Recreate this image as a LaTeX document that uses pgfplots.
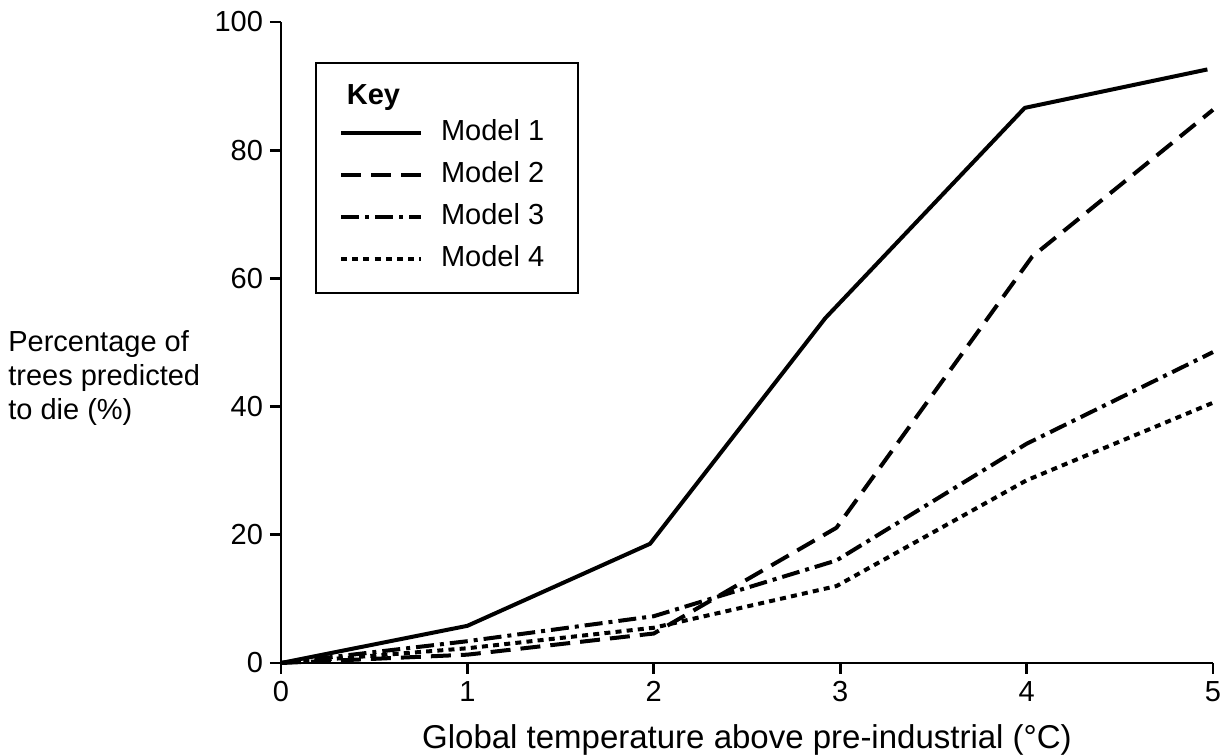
\documentclass[border=0pt]{standalone}
\usepackage{fontspec}
\setmainfont{Liberation Sans}
\usepackage{pgfplots}
\pgfplotsset{compat=1.18}
\newcommand{\fs}{\fontsize{14.5}{17}\selectfont}
\begin{document}
\begin{tikzpicture}[x=1pt,y=1pt]
\begin{axis}[
  at={(140.5pt,46pt)}, anchor=south west,
  scale only axis, width=466pt, height=320.5pt,
  xmin=0, xmax=5, ymin=0, ymax=100,
  axis lines*=left,
  axis line style={line width=1.4pt},
  every tick/.style={line width=1.4pt, black},
  tick align=outside, major tick length=5.5pt,
  xtick={0,1,2,3,4,5}, ytick={0,20,40,60,80,100},
  tick label style={font=\fs},
  /pgf/number format/assume math mode=true,
  clip=false,
  xlabel={Global temperature above pre-industrial (°C)},
  xlabel style={font=\fontsize{16.5}{19}\selectfont, at={(rel axis cs:0.5,0)}, anchor=center, yshift=-38.5pt},
  legend style={at={(rel axis cs:0.0365,0.9376)}, anchor=north west,
    draw=black, line width=1pt, inner xsep=11.5pt, inner ysep=10.25pt,
    font=\fs,
    nodes={inner sep=0pt, text height=10.5pt, text depth=3pt, anchor=west},
    row sep=7.5pt, column sep=9pt},
  legend cell align=left,
  legend image code/.code={\draw[#1, line width=2pt] (0pt,0pt) -- (40pt,0pt);},
]
\addlegendimage{empty legend}
\addlegendentry[text depth=0pt]{\hspace*{-68.5pt}\textbf{Key}}
\addplot[black, line width=2pt, line join=round] coordinates {(0,0) (1,5.8) (1.98,18.6) (2.92,53.8) (3.99,86.6) (4.97,92.6)};
\addlegendentry{Model 1\hspace*{5.5pt}}
\addplot[black, line width=2pt, line join=round, dash pattern=on 10pt off 5pt] coordinates {(0,0) (1,1.3) (2,4.6) (2.98,21.1) (4.03,63.4) (5,86.3)};
\addlegendentry{Model 2}
\addplot[black, line width=2pt, line join=round, dash pattern=on 9pt off 3pt on 2pt off 3pt] coordinates {(0,0) (1,3.4) (2,7.3) (2.98,16.0) (4,34.2) (5,48.5)};
\addlegendentry{Model 3}
\addplot[black, line width=2pt, line join=round, dash pattern=on 3pt off 2.6pt] coordinates {(0,0) (1,2.3) (2,5.5) (2.98,12.0) (4,28.5) (5,40.6)};
\addlegendentry{Model 4}
\node[anchor=west, align=left, inner sep=0pt, font=\fs] at (rel axis cs:-0.293,0.445) {Percentage of\\trees predicted\\to die (\%)};
\end{axis}
\pgfresetboundingbox
\path (0,0) rectangle (614pt,377.5pt);
\end{tikzpicture}
\end{document}
